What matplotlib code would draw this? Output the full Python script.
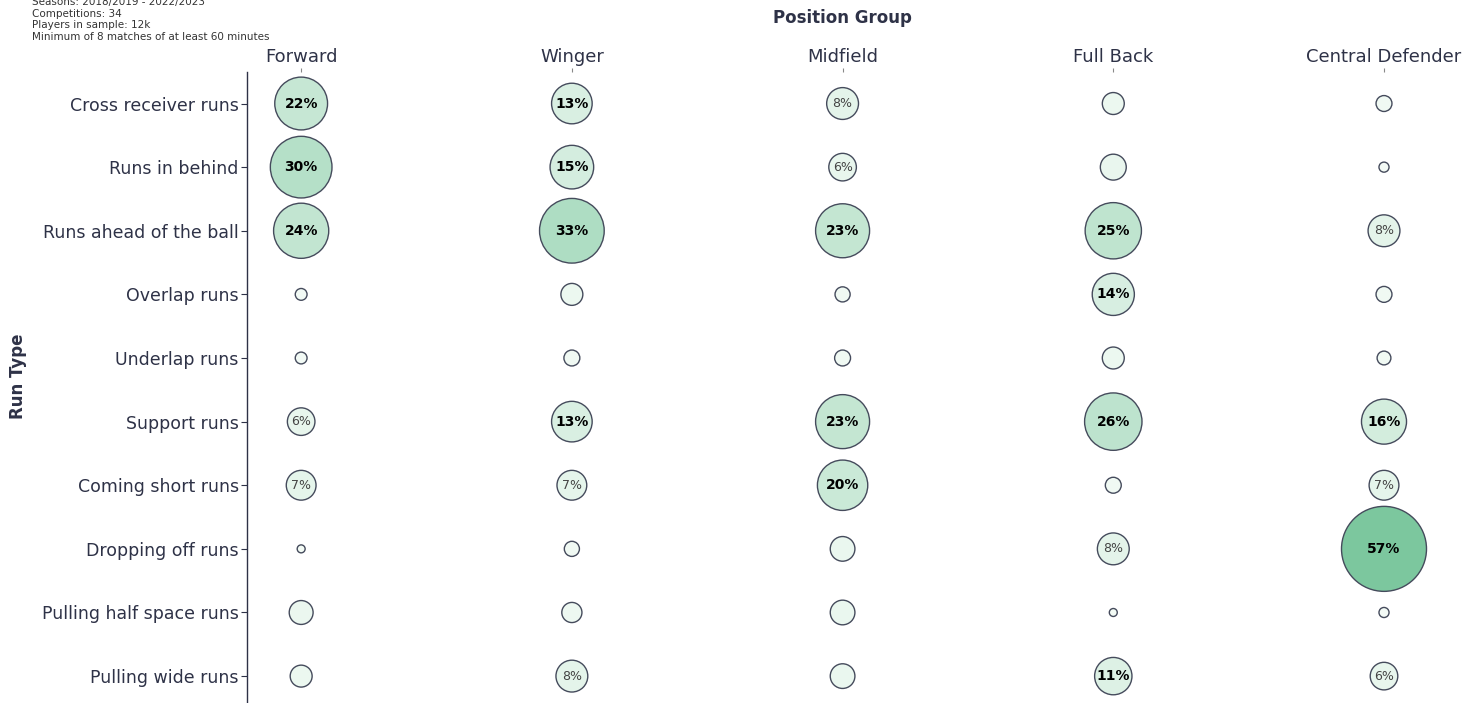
import numpy as np
import matplotlib.pyplot as plt
from matplotlib.colors import LinearSegmentedColormap

positions = ["Forward", "Winger", "Midfield", "Full Back", "Central Defender"]
run_types = [
    "Cross receiver runs", "Runs in behind", "Runs ahead of the ball",
    "Overlap runs", "Underlap runs", "Support runs", "Coming short runs",
    "Dropping off runs", "Pulling half space runs", "Pulling wide runs",
]

# share of each run type per position group (%), columns sum to ~100
forward = [22, 30, 24, 1.1, 1.1, 6, 7, 0.5, 4.5, 3.8]
winger = [13, 15, 33, 3.8, 2.0, 13, 7, 1.8, 3.2, 8]
midfield = [8, 6, 23, 1.8, 2.0, 23, 20, 4.8, 4.8, 4.8]
full_back = [3.8, 5.3, 25, 14, 3.8, 26, 2.0, 8, 0.5, 11]
central_def = [2.0, 0.8, 8, 2.0, 1.5, 16, 7, 57, 0.8, 6]

notes = [
    "Seasons: 2018/2019 - 2022/2023",
    "Competitions: 34",
    "Players in sample: 12k",
    "Minimum of 8 matches of at least 60 minutes",
]

navy = "#2e3247"
edge = "#454b5c"
cmap = LinearSegmentedColormap.from_list("grn", ["#f4fbf6", "#7cc79e"])

values = np.array([forward, winger, midfield, full_back, central_def])
vmax = values.max()

fig = plt.figure(figsize=(14.66, 7.03), dpi=100)
ax = fig.add_axes([0.1685, -0.007, 0.8125, 0.905])

for i, col in enumerate(values):
    y = np.arange(len(run_types))
    x = np.full(len(run_types), i)
    ax.scatter(x, y, s=col * 65.7, c=col, cmap=cmap, vmin=0, vmax=vmax,
               edgecolors=edge, linewidths=1.0, zorder=3)
    for j, v in enumerate(col):
        if v >= 5.5:
            if v >= 10:
                ax.text(i, j, f"{v:.0f}%", ha="center", va="center",
                        fontsize=10, fontweight="bold", color="black", zorder=4)
            else:
                ax.text(i, j, f"{v:.0f}%", ha="center", va="center",
                        fontsize=9, color="#444444", zorder=4)

ax.set_xlim(-0.2, 4.2)
ax.set_ylim(len(run_types) - 0.5, -0.5)
ax.set_xticks(range(len(positions)))
ax.set_xticklabels(positions, fontsize=13, color=navy)
ax.set_yticks(range(len(run_types)))
ax.set_yticklabels(run_types, fontsize=12.5, color=navy)
ax.xaxis.tick_top()
ax.tick_params(axis="x", length=3, width=0.8, color="#888888", pad=1)
ax.tick_params(axis="y", length=4, width=0.8, color=navy, pad=2)
for side in ["top", "right", "bottom"]:
    ax.spines[side].set_visible(False)
ax.spines["left"].set_color(navy)
ax.spines["left"].set_linewidth(1.0)

fig.text(0.5747, 0.975, "Position Group", ha="center", va="center",
         fontsize=12, fontweight="bold", color=navy)
fig.text(0.012, 0.465, "Run Type", ha="center", va="center", rotation=90,
         fontsize=12, fontweight="bold", color=navy)

for k, line in enumerate(notes):
    fig.text(0.022, 0.997 - k * 0.0165, line, ha="left", va="center",
             fontsize=7.5, color="#333333")

fig.savefig("out.png", dpi=100)
